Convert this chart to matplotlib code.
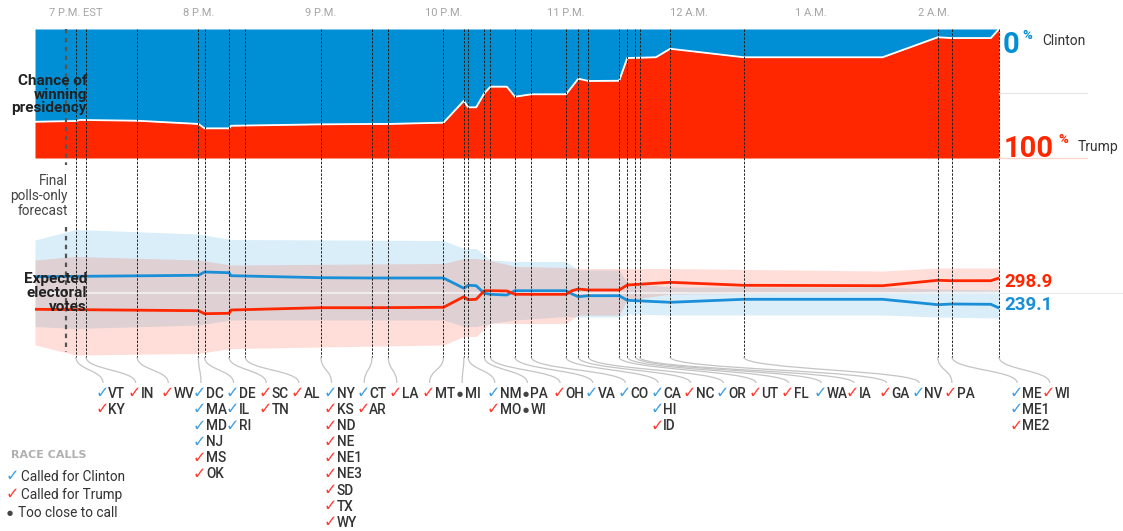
import matplotlib.pyplot as plt
from matplotlib.path import Path
from matplotlib.patches import PathPatch

# minutes after 7 P.M. EST
chance_t = [-20, 0, 2, 30, 60, 63, 75, 76, 120, 145, 153, 180, 190, 192, 196, 200, 203,
            211, 215, 223, 240, 246, 251, 266, 270, 284, 291, 327, 395, 422, 429, 448, 452]
trump_chance = [28.1, 28.7, 29.5, 28.9, 26.4, 23.0, 23.0, 25.0, 26.1, 26.4, 26.4, 27.4, 44.4,
                39.3, 39.3, 50.2, 55.3, 55.3, 47.5, 49.4, 49.4, 61.5, 59.7, 59.9, 77.5, 78.1,
                84.7, 78.1, 78.1, 93.6, 93.0, 93.0, 100]

ev_t = [-20, 60, 63, 75, 76, 120, 145, 180, 190, 192, 196, 200, 203, 211, 215, 240, 243,
        246, 251, 266, 270, 291, 327, 395, 422, 429, 448, 452]
clinton_ev = [301.6, 304.4, 311, 309.6, 303.6, 299.6, 299, 299, 278.4, 284.4, 283.6, 268.4,
              266.4, 265, 273.6, 273.6, 267, 261.6, 263.6, 263.6, 254.4, 250.4, 256.4, 256.4,
              245.6, 247, 246.4, 239.1]
trump_ev = [236.4, 233.6, 227.6, 228.4, 235, 239.6, 239.6, 240.4, 261.6, 255.6, 256.4, 273.6,
            273.6, 273, 266.4, 266.4, 273.6, 277, 275, 275, 285, 290.4, 284.4, 283.6, 294.4,
            293.6, 293.6, 298.9]

band_t = [-20, 0, 60, 76, 180, 190, 196, 203, 215, 240, 246, 266, 270, 291, 395, 422, 452]
clinton_hi = [375, 396, 387, 376, 374, 358, 358, 335, 332, 332, 315, 315, 289, 281, 281, 277, 275]
clinton_lo = [202, 198, 205, 215, 215, 202, 202, 208, 215, 222, 221, 221, 227, 225, 225, 221, 219]
trump_hi = [335, 342, 335, 325, 328, 338, 338, 334, 322, 320, 318, 318, 318, 318, 313, 319, 319]
trump_lo = [165, 145, 148, 158, 165, 182, 182, 209, 208, 208, 225, 225, 255, 267, 269, 273, 273]

forecast_t = -5

call_t = [0, 5, 30, 60, 63, 75, 83, 120, 145, 153, 180, 190, 192, 200, 203, 215, 223, 240,
          246, 251, 266, 270, 274, 276, 291, 327, 422, 429, 452]
call_states = [["VT", "KY"], ["IN"], ["WV"], ["DC", "MA", "MD", "NJ", "MS", "OK"],
               ["DE", "IL", "RI"], ["SC", "TN"], ["AL"],
               ["NY", "KS", "ND", "NE", "NE1", "NE3", "SD", "TX", "WY"], ["CT", "AR"],
               ["LA"], ["MT"], ["MI"], ["NM", "MO"], ["PA", "WI"], ["OH"], ["VA"], ["CO"],
               ["CA", "HI", "ID"], ["NC"], ["OR"], ["UT"], ["FL"], ["WA"], ["IA"], ["GA"],
               ["NV"], ["PA"], ["ME", "ME1", "ME2"], ["WI"]]
# C = called for Clinton, T = called for Trump, X = too close to call
call_result = ["CT", "T", "T", "CCCCTT", "CCC", "TT", "T", "CTTTTTTTT", "CT", "T", "T", "X",
               "CT", "XX", "T", "C", "C", "CCT", "T", "C", "T", "T", "C", "T", "T", "C", "T",
               "CCT", "T"]
label_slot = list(range(27)) + [28, 29]

hour_labels = ["7 P.M. EST", "8 P.M.", "9 P.M.", "10 P.M.", "11 P.M.", "12 A.M.", "1 A.M.", "2 A.M."]
hour_t = [0, 60, 120, 180, 240, 300, 360, 420]

BLUE = "#008fd5"
RED = "#ff2700"
CHK_BLUE = "#3f9de0"
CHK_RED = "#ff3b30"
DARK = "#222222"
TXT = "#333333"
FONT = ["Roboto", "DejaVu Sans"]

W, H = 1123, 531
X0, X1 = 35, 999
T0, T1 = -20, 452


def tpx(m):
    return X0 + (m - T0) * (X1 - X0) / (T1 - T0)


def box(ytop, ybot):
    return [X0 / W, 1 - ybot / H, (X1 - X0) / W, (ybot - ytop) / H]


def check(x, y, res):
    # x is the right edge of the tick
    ov.text(x, y - 0.3, "✓", ha="right", va="center", fontsize=11.5,
            color=CHK_BLUE if res == "C" else CHK_RED, family="DejaVu Sans", zorder=10)


def dot(x, y):
    ov.text(x, y, "●", ha="center", va="center", fontsize=5, color="#444444",
            family="DejaVu Sans", zorder=10)


fig = plt.figure(figsize=(W / 100, H / 100), dpi=100)

# chance of winning
ax1 = fig.add_axes(box(29, 158))
ax1.fill_between(chance_t, 0, trump_chance, color=RED, lw=0)
ax1.fill_between(chance_t, trump_chance, 100, color=BLUE, lw=0)
ax1.plot(chance_t, trump_chance, color="white", lw=1.3)
ax1.set_xlim(T0, T1)
ax1.set_ylim(0, 100)
ax1.axis("off")

# expected electoral votes
ax2 = fig.add_axes(box(220, 360))
ax2.fill_between(band_t, clinton_lo, clinton_hi, color=BLUE, alpha=0.15, lw=0)
ax2.fill_between(band_t, trump_lo, trump_hi, color=RED, alpha=0.15, lw=0)
ax2.axhline(270, color="#f2f2f2", lw=1.2)
ax2.plot(ev_t, clinton_ev, color="#1a8fd8", lw=2)
ax2.plot(ev_t, trump_ev, color=RED, lw=2)
ax2.set_xlim(T0, T1)
ax2.set_ylim(135, 415)
ax2.axis("off")

ov = fig.add_axes([0, 0, 1, 1], zorder=5)
ov.set_xlim(0, W)
ov.set_ylim(H, 0)
ov.axis("off")
ov.patch.set_visible(False)

for t, lab in zip(hour_t, hour_labels):
    ov.text(tpx(t), 13, lab, ha="center", va="center", fontsize=8, color="#a5a5a5", family=FONT)

# forecast marker
fx = tpx(forecast_t)
ov.plot([fx, fx], [29, 165], color="#555555", lw=1.6, ls=(0, (2, 2)))
ov.plot([fx, fx], [227, 352], color="#555555", lw=1.6, ls=(0, (2, 2)))
for k, s in enumerate(["Final", "polls-only", "forecast"]):
    ov.text(68, 181 + 15 * k, s, ha="right", va="center", fontsize=9.8, color="#444444", family=FONT)

# race call lines, connectors and labels
for t, slot, states, res in zip(call_t, label_slot, call_states, call_result):
    lx = tpx(t)
    sx = 98 + 32.65 * slot
    ov.plot([lx, lx], [29, 357], color="#222222", lw=0.7, ls=(0, (2.5, 1.5)))
    ex = sx + 5
    path = Path([(lx, 357), (lx, 370), (ex, 370), (ex, 383)],
                [Path.MOVETO, Path.CURVE4, Path.CURVE4, Path.CURVE4])
    ov.add_patch(PathPatch(path, fc="none", ec="#c4c4c4", lw=0.9))
    for j, (st, r) in enumerate(zip(states, res)):
        y = 394 + 16.1 * j
        if r == "X":
            dot(sx + 3, y)
            ov.text(sx + 8, y, st, ha="left", va="center", fontsize=9.8, weight="medium",
                    color=TXT, family=FONT, zorder=10)
        else:
            check(sx + 10.5, y, r)
            ov.text(sx + 10, y, st, ha="left", va="center", fontsize=9.8, weight="medium",
                    color=TXT, family=FONT, zorder=10)

# section titles
for k, s in enumerate(["Chance of", "winning", "presidency"]):
    ov.text(87, 81 + 13.5 * k, s, ha="right", va="center", fontsize=11, weight="bold",
            color=DARK, family=FONT, zorder=10)
for k, s in enumerate(["Expected", "electoral", "votes"]):
    ov.text(87, 279 + 14 * k, s, ha="right", va="center", fontsize=11, weight="bold",
            color=DARK, family=FONT, zorder=10)

# right-hand labels
ov.plot([X1, 1087], [93, 93], color="#e6e6e6", lw=0.9)
ov.plot([X1, 1087], [158, 158], color="#ffd3c9", lw=0.9)
ov.plot([X1, W], [292.5, 292.5], color="#ececec", lw=0.9)

ov.text(1003, 53, f"{100 - trump_chance[-1]:.0f}", ha="left", va="baseline", fontsize=21,
        weight="bold", color=BLUE, family=FONT)
ov.text(1022, 39, "%", ha="left", va="baseline", fontsize=9.5, weight="bold", color=BLUE, family=FONT)
ov.text(1042, 45, "Clinton", ha="left", va="baseline", fontsize=10, color=TXT, family=FONT)
ov.text(1004, 157, f"{trump_chance[-1]:.0f}", ha="left", va="baseline", fontsize=21,
        weight="bold", color=RED, family=FONT)
ov.text(1058, 143, "%", ha="left", va="baseline", fontsize=9.5, weight="bold", color=RED, family=FONT)
ov.text(1078, 151, "Trump", ha="left", va="baseline", fontsize=10, color=TXT, family=FONT)

ov.text(1004, 287, f"{trump_ev[-1]:.1f}", ha="left", va="baseline", fontsize=13.5,
        weight="bold", color=RED, family=FONT)
ov.text(1004, 310, f"{clinton_ev[-1]:.1f}", ha="left", va="baseline", fontsize=13.5,
        weight="bold", color="#1a8fd8", family=FONT)

# legend
ov.text(11, 455, "RACE CALLS", ha="left", va="center", fontsize=8, weight="semibold",
        color="#b0b0b0", family="DejaVu Sans")
check(18.5, 477, "C")
ov.text(21, 477, "Called for Clinton", ha="left", va="center", fontsize=9.8, color=TXT, family=FONT)
check(18.5, 495, "T")
ov.text(21, 495, "Called for Trump", ha="left", va="center", fontsize=9.8, color=TXT, family=FONT)
dot(10, 513)
ov.text(18, 513, "Too close to call", ha="left", va="center", fontsize=9.8, color=TXT, family=FONT)

fig.savefig("out.png", dpi=100)
